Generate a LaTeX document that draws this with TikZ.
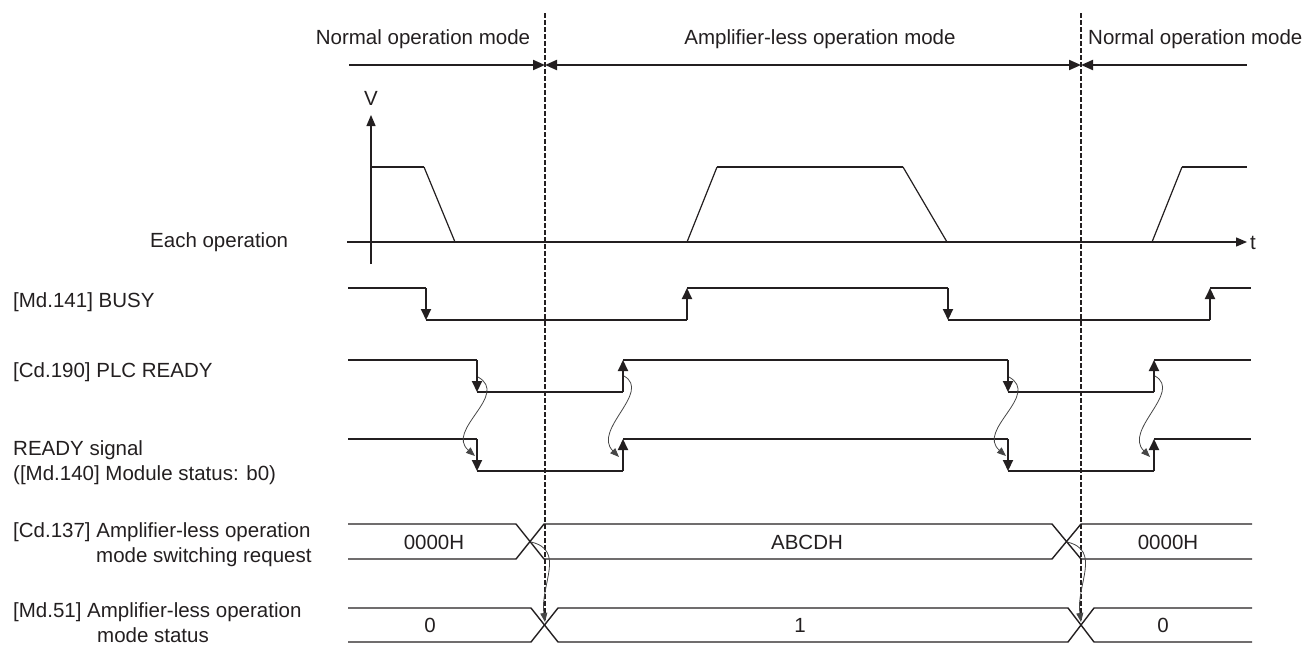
\documentclass[tikz,border=0pt]{standalone}
\usepackage{fontspec}
\setmainfont{Liberation Sans}
\usetikzlibrary{arrows.meta}
\definecolor{ink}{RGB}{35,31,32}
\definecolor{thinc}{RGB}{70,70,70}
\begin{document}
\begin{tikzpicture}[x=1pt,y=-1pt,
  lbl/.style={font=\fontsize{20.5}{24}\selectfont, text=ink, inner sep=0pt},
  sig/.style={line width=2pt, draw=ink},
  tipend/.style={-{Triangle[length=11pt,width=10pt]}},
  modeline/.style={line width=2pt, draw=ink},
  bus/.style={line width=1.4pt, draw=ink},
  ax/.style={line width=1.3pt, draw=ink},
  prof/.style={line width=2.2pt, draw=ink},
  slope/.style={line width=1.2pt, draw=ink},
  guide/.style={line width=2.2pt, draw=ink, dash pattern=on 4.5pt off 2.5pt},
  wav/.style={line width=0.8pt, draw=thinc, -{Triangle[length=9pt,width=7pt]}},
]
\useasboundingbox (0,0) rectangle (1314,648);

% ---------- mode headers ----------
\node[lbl, anchor=base] (nm1) at (423,44.5) {Normal operation mode};
\node[lbl, anchor=base] (am) at (820,44.5) {Amplifier-less operation mode};
\node[lbl, anchor=base west] (nm2) at (1088,44.5) {Normal operation mode};

\coordinate (m0) at (349,65);
\coordinate (m1) at (545,65);
\coordinate (m2) at (1081,65);
\coordinate (m3) at (1247,65);
\draw[modeline, -{Triangle[length=12pt,width=10pt]}] (m0) -- (m1);
\draw[modeline, {Triangle[length=12pt,width=10pt]}-{Triangle[length=12pt,width=10pt]}] (m1) -- (m2);
\draw[modeline, {Triangle[length=12pt,width=10pt]}-] (m2) -- (m3);

% ---------- dashed guides ----------
\draw[guide] (545,13) -- (545,622);
\draw[guide] (1081,13) -- (1081,622);

% ---------- speed profile ----------
\draw[ax, -{Triangle[length=11pt,width=9pt]}] (371,264) -- (371,115);
\node[lbl, anchor=base] (vl) at (371,105.5) {V};
\draw[ax, -{Triangle[length=11pt,width=9pt]}] (347,242) -- (1247,242);
\node[lbl, anchor=base west] (tl) at (1250,249.5) {t};
\node[lbl, anchor=base west] (eo) at (150,247) {Each operation};

\draw[prof] (371,167) -- (424,167);
\draw[slope] (424,167) -- (455,242);
\draw[slope] (687,242) -- (717,167);
\draw[prof] (717,167) -- (903,167);
\draw[slope] (903,167) -- (947,242);
\draw[slope] (1152,242) -- (1182,167);
\draw[prof] (1182,167) -- (1247,167);

% ---------- BUSY ----------
\node[lbl, anchor=base west] (busyl) at (13,307.5) {[Md.141] BUSY};
\draw[sig] (348,288) -- (426,288);
\draw[sig, tipend] (426,288) -- (426,320);
\draw[sig] (426,320) -- (687,320);
\draw[sig, tipend] (687,320) -- (687,288);
\draw[sig] (687,288) -- (948,288);
\draw[sig, tipend] (948,288) -- (948,320);
\draw[sig] (948,320) -- (1210,320);
\draw[sig, tipend] (1210,320) -- (1210,288);
\draw[sig] (1210,288) -- (1251,288);

% ---------- PLC READY ----------
\node[lbl, anchor=base west] (plcl) at (13,377.5) {[Cd.190] PLC READY};
\draw[sig] (348,360) -- (477,360);
\draw[sig, tipend] (477,360) -- (477,392);
\draw[sig] (477,392) -- (623,392);
\draw[sig, tipend] (623,392) -- (623,360);
\draw[sig] (623,360) -- (1008,360);
\draw[sig, tipend] (1008,360) -- (1008,392);
\draw[sig] (1008,392) -- (1154,392);
\draw[sig, tipend] (1154,392) -- (1154,360);
\draw[sig] (1154,360) -- (1251,360);

% ---------- READY signal ----------
\node[lbl, anchor=base west] (rdyl1) at (13,455.5) {READY signal};
\node[lbl, anchor=base west] (rdyl2) at (13,480.5) {([Md.140] Module status: b0)};
\draw[sig] (348,439) -- (477,439);
\draw[sig, tipend] (477,439) -- (477,471);
\draw[sig] (477,471) -- (623,471);
\draw[sig, tipend] (623,471) -- (623,439);
\draw[sig] (623,439) -- (1008,439);
\draw[sig, tipend] (1008,439) -- (1008,471);
\draw[sig] (1008,471) -- (1154,471);
\draw[sig, tipend] (1154,471) -- (1154,439);
\draw[sig] (1154,439) -- (1251,439);

% wavy cause arrows
\draw[wav] (478,377) .. controls (510,395) and (445,430) .. (475,456);
\draw[wav] (624,376) .. controls (652,392) and (592,430) .. (619,457);
\draw[wav] (1009,377) .. controls (1041,395) and (976,430) .. (1006,456);
\draw[wav] (1155,376) .. controls (1183,392) and (1123,430) .. (1150,457);

% ---------- Cd.137 ----------
\node[lbl, anchor=base west] (cdl1) at (13,537.5) {[Cd.137] Amplifier-less operation};
\node[lbl, anchor=base west] (cdl2) at (96,562.5) {mode switching request};
\draw[bus] (348,524) -- (516,524) -- (544,559) -- (1052,559) -- (1081,524) -- (1252,524);
\draw[bus] (348,559) -- (516,559) -- (544,524) -- (1052,524) -- (1081,559) -- (1252,559);
\node[lbl, anchor=base] (cv1) at (434,549.5) {0000H};
\node[lbl, anchor=base] (cv2) at (807,549.5) {ABCDH};
\node[lbl, anchor=base] (cv3) at (1168,549.5) {0000H};

% ---------- Md.51 ----------
\node[lbl, anchor=base west] (mdl1) at (13,617.5) {[Md.51] Amplifier-less operation};
\node[lbl, anchor=base west] (mdl2) at (97,642.5) {mode status};
\draw[bus] (348,608) -- (531,608) -- (558,642) -- (1068,642) -- (1094,608) -- (1252,608);
\draw[bus] (348,642) -- (531,642) -- (558,608) -- (1068,608) -- (1094,642) -- (1252,642);
\node[lbl, anchor=base] (mv1) at (430,632.5) {0};
\node[lbl, anchor=base] (mv2) at (800,632.5) {1};
\node[lbl, anchor=base] (mv3) at (1163,632.5) {0};

\draw[wav] (531,542) .. controls (566,550) and (540,585) .. (545,622);
\draw[wav] (1067,542) .. controls (1102,550) and (1076,585) .. (1081,622);
\end{tikzpicture}
\end{document}
